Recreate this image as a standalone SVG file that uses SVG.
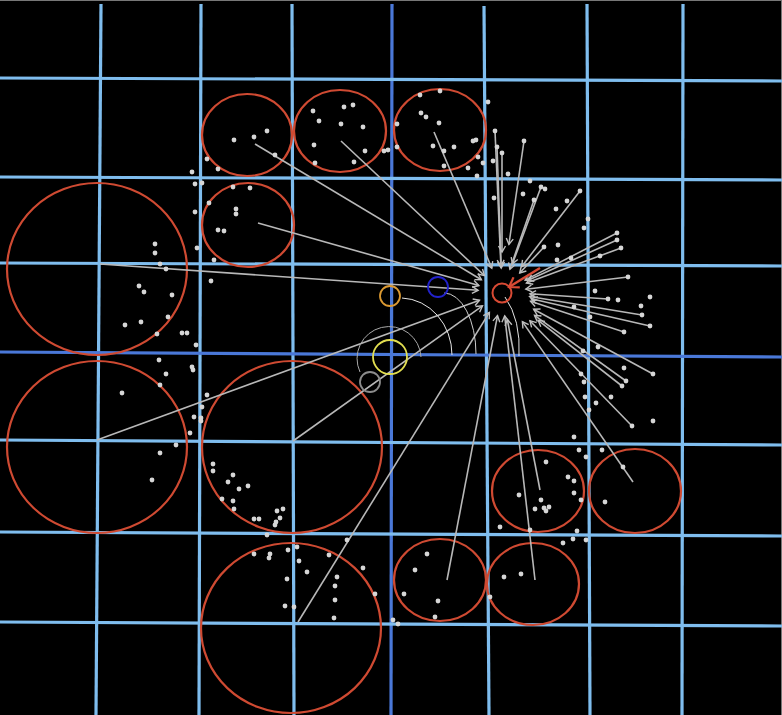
<svg xmlns="http://www.w3.org/2000/svg" width="782" height="715" viewBox="0 0 782 715">
<style>
.g{stroke:#7fbdee;stroke-width:3.2;fill:none}
.gd{stroke:#4a78d8;stroke-width:3.2;fill:none}
.rc{fill:none;stroke:#cf4a32;stroke-width:2.2}
.cn{stroke:#b8b8b8;stroke-width:1.6;fill:none;marker-end:url(#ah)}
.d{fill:#d6d6d6}
</style>
<defs>
<marker id="ah" viewBox="-8 -5 10 10" refX="0" refY="0" markerWidth="10" markerHeight="10" markerUnits="userSpaceOnUse" orient="auto">
<path d="M-6,-3.5 L0,0 L-6,3.5" fill="none" stroke="#c0c0c0" stroke-width="1.4"/>
</marker>
<marker id="rah" viewBox="-12 -7 14 14" refX="0" refY="0" markerWidth="14" markerHeight="14" markerUnits="userSpaceOnUse" orient="auto">
<path d="M-9,-6 L0,0 L-9,6" fill="none" stroke="#d84a34" stroke-width="2.2"/>
</marker>
</defs>
<rect x="0" y="0" width="782" height="715" fill="#000"/>
<line x1="0" y1="0.5" x2="782" y2="0.5" stroke="#777" stroke-width="1"/>
<line x1="781.5" y1="0" x2="781.5" y2="715" stroke="#777" stroke-width="1"/>
<g id="grid">
<line class="g" x1="101" y1="4" x2="96" y2="715"/>
<line class="g" x1="201" y1="4" x2="199" y2="715"/>
<line class="g" x1="292" y1="4" x2="294" y2="715"/>
<line class="gd" x1="392" y1="4" x2="391" y2="715"/>
<line class="g" x1="484" y1="6" x2="489" y2="715"/>
<line class="g" x1="587" y1="4" x2="590" y2="715"/>
<line class="g" x1="683" y1="4" x2="682" y2="715"/>
<line class="g" x1="0" y1="78" x2="782" y2="81"/>
<line class="g" x1="0" y1="177" x2="782" y2="180"/>
<line class="g" x1="0" y1="263" x2="782" y2="266"/>
<line class="gd" x1="0" y1="352" x2="782" y2="357"/>
<line class="g" x1="0" y1="440" x2="782" y2="445"/>
<line class="g" x1="0" y1="532" x2="782" y2="536"/>
<line class="g" x1="0" y1="622" x2="782" y2="626"/>
</g>
<g id="clusters">
<ellipse id="c1" class="rc" cx="247" cy="135" rx="45" ry="41"/>
<ellipse id="c2" class="rc" cx="340" cy="131" rx="46" ry="41"/>
<ellipse id="c3" class="rc" cx="440" cy="130" rx="46" ry="41"/>
<ellipse id="c4" class="rc" cx="248" cy="225" rx="46" ry="42"/>
<ellipse id="c5" class="rc" cx="97" cy="269" rx="90" ry="86"/>
<ellipse id="c6" class="rc" cx="97" cy="447" rx="90" ry="86"/>
<ellipse id="c7" class="rc" cx="292" cy="447" rx="90" ry="86"/>
<ellipse id="c8" class="rc" cx="291" cy="628" rx="90" ry="85"/>
<ellipse id="c9" class="rc" cx="538" cy="491" rx="46" ry="41"/>
<ellipse id="c10" class="rc" cx="635" cy="491" rx="46" ry="42"/>
<ellipse id="c11" class="rc" cx="440" cy="580" rx="46" ry="41"/>
<ellipse id="c12" class="rc" cx="533" cy="584" rx="46" ry="41"/>
</g>
<g id="connectors">
<line class="cn" x1="255" y1="144" x2="481.4" y2="279.7"/>
<line class="cn" x1="341" y1="141" x2="484.5" y2="275.6"/>
<line class="cn" x1="434" y1="132" x2="491.8" y2="268.1"/>
<line class="cn" x1="258" y1="223" x2="478.9" y2="285.5"/>
<line class="cn" x1="100" y1="264" x2="478.1" y2="290.3"/>
<line class="cn" x1="97" y1="440" x2="479.5" y2="300.2"/>
<line class="cn" x1="293" y1="441" x2="482.5" y2="305.9"/>
<line class="cn" x1="298" y1="622" x2="489.4" y2="312.4"/>
<line class="cn" x1="447" y1="580" x2="497.5" y2="315.6"/>
<line class="cn" x1="535" y1="580" x2="504.7" y2="315.8"/>
<line class="cn" x1="540" y1="490" x2="507.3" y2="319.5"/>
<line class="cn" x1="633" y1="482" x2="522.4" y2="321.6"/>
<line class="cn" x1="495" y1="131" x2="500.9" y2="266"/>
<line class="cn" x1="497" y1="147" x2="501.2" y2="268"/>
<line class="cn" x1="502" y1="153" x2="502" y2="252"/>
<line class="cn" x1="524" y1="141" x2="508.9" y2="244.5"/>
<line class="cn" x1="541" y1="187" x2="512.4" y2="263.9"/>
<line class="cn" x1="534" y1="200" x2="509.9" y2="269.3"/>
<line class="cn" x1="580" y1="191" x2="521.6" y2="266.7"/>
<line class="cn" x1="544" y1="247" x2="519.7" y2="273"/>
<line class="cn" x1="617" y1="233" x2="525.1" y2="280.1"/>
<line class="cn" x1="617" y1="240" x2="527.5" y2="280.5"/>
<line class="cn" x1="621" y1="248" x2="526.4" y2="283"/>
<line class="cn" x1="628" y1="277" x2="525.8" y2="289.2"/>
<line class="cn" x1="608" y1="299" x2="529.9" y2="293.8"/>
<line class="cn" x1="642" y1="315" x2="529.6" y2="296.5"/>
<line class="cn" x1="650" y1="326" x2="531.2" y2="298.7"/>
<line class="cn" x1="624" y1="332" x2="530.5" y2="301.3"/>
<line class="cn" x1="653" y1="374" x2="533.6" y2="309.2"/>
<line class="cn" x1="626" y1="381" x2="534.5" y2="315.3"/>
<line class="cn" x1="622" y1="386" x2="538.2" y2="320.4"/>
<line class="cn" x1="632" y1="426" x2="529.9" y2="320.7"/>
<line x1="540" y1="268" x2="509" y2="287" stroke="#d84a34" stroke-width="2.5" marker-end="url(#rah)"/>
</g>
<g id="arcs" fill="none">
<path d="M402,298 A52,57 0 0 1 452,355" stroke="#e6e6e6" stroke-width="1"/>
<path d="M444,293 A32,61 0 0 1 476,354" stroke="#cfcfcf" stroke-width="1"/>
<path d="M421,357 A32,32 0 1 0 360,372" stroke="#a8a8a8" stroke-width="1"/>
<path d="M505,297 Q521,320 519,356" stroke="#e6e6e6" stroke-width="1"/>
</g>
<g id="markers" fill="none" stroke-width="1.8">
<circle id="target" cx="502" cy="293" r="9.5" stroke="#d84a34" stroke-width="2"/>
<circle id="blue" cx="438" cy="287" r="10" stroke="#2222cc"/>
<circle id="orange" cx="390" cy="296" r="10" stroke="#dc9a32"/>
<circle id="yellow" cx="390" cy="357" r="17" stroke="#e2de50"/>
<circle id="gray" cx="370" cy="382" r="10" stroke="#8c8c8c"/>
</g>
<g id="dots" class="d">
<circle cx="234" cy="140" r="2.4"/><circle cx="254" cy="137" r="2.4"/><circle cx="267" cy="131" r="2.4"/><circle cx="275" cy="155" r="2.4"/><circle cx="207" cy="159" r="2.4"/><circle cx="218" cy="169" r="2.4"/><circle cx="192" cy="172" r="2.4"/><circle cx="195" cy="184" r="2.4"/><circle cx="202" cy="183" r="2.4"/><circle cx="233" cy="187" r="2.4"/><circle cx="250" cy="188" r="2.4"/>
<circle cx="313" cy="111" r="2.4"/><circle cx="344" cy="107" r="2.4"/><circle cx="353" cy="105" r="2.4"/><circle cx="319" cy="121" r="2.4"/><circle cx="341" cy="124" r="2.4"/><circle cx="363" cy="127" r="2.4"/><circle cx="314" cy="145" r="2.4"/><circle cx="365" cy="151" r="2.4"/><circle cx="354" cy="162" r="2.4"/><circle cx="315" cy="163" r="2.4"/><circle cx="384" cy="151" r="2.4"/><circle cx="388" cy="150" r="2.4"/><circle cx="397" cy="147" r="2.4"/>
<circle cx="420" cy="95" r="2.4"/><circle cx="440" cy="91" r="2.4"/><circle cx="421" cy="113" r="2.4"/><circle cx="426" cy="117" r="2.4"/><circle cx="439" cy="123" r="2.4"/><circle cx="397" cy="124" r="2.4"/><circle cx="433" cy="146" r="2.4"/><circle cx="444" cy="151" r="2.4"/><circle cx="454" cy="147" r="2.4"/><circle cx="473" cy="141" r="2.4"/><circle cx="476" cy="140" r="2.4"/><circle cx="444" cy="166" r="2.4"/><circle cx="468" cy="168" r="2.4"/><circle cx="478" cy="157" r="2.4"/><circle cx="477" cy="176" r="2.4"/><circle cx="483" cy="163" r="2.4"/><circle cx="488" cy="102" r="2.4"/>
<circle cx="495" cy="131" r="2.4"/><circle cx="497" cy="147" r="2.4"/><circle cx="502" cy="153" r="2.4"/><circle cx="493" cy="161" r="2.4"/><circle cx="524" cy="141" r="2.4"/><circle cx="508" cy="174" r="2.4"/><circle cx="530" cy="181" r="2.4"/><circle cx="523" cy="194" r="2.4"/><circle cx="494" cy="198" r="2.4"/><circle cx="541" cy="187" r="2.4"/><circle cx="545" cy="189" r="2.4"/><circle cx="534" cy="200" r="2.4"/><circle cx="556" cy="209" r="2.4"/><circle cx="567" cy="201" r="2.4"/><circle cx="580" cy="191" r="2.4"/><circle cx="588" cy="219" r="2.4"/><circle cx="584" cy="228" r="2.4"/><circle cx="544" cy="247" r="2.4"/><circle cx="558" cy="245" r="2.4"/><circle cx="557" cy="260" r="2.4"/><circle cx="571" cy="258" r="2.4"/><circle cx="600" cy="256" r="2.4"/><circle cx="617" cy="233" r="2.4"/><circle cx="617" cy="240" r="2.4"/><circle cx="621" cy="248" r="2.4"/><circle cx="628" cy="277" r="2.4"/>
<circle cx="595" cy="291" r="2.4"/><circle cx="608" cy="299" r="2.4"/><circle cx="618" cy="300" r="2.4"/><circle cx="650" cy="297" r="2.4"/><circle cx="641" cy="306" r="2.4"/><circle cx="642" cy="315" r="2.4"/><circle cx="650" cy="326" r="2.4"/><circle cx="574" cy="307" r="2.4"/><circle cx="590" cy="317" r="2.4"/><circle cx="624" cy="332" r="2.4"/><circle cx="598" cy="347" r="2.4"/><circle cx="583" cy="351" r="2.4"/><circle cx="624" cy="368" r="2.4"/><circle cx="653" cy="374" r="2.4"/><circle cx="626" cy="381" r="2.4"/><circle cx="622" cy="386" r="2.4"/><circle cx="581" cy="374" r="2.4"/><circle cx="584" cy="382" r="2.4"/><circle cx="611" cy="397" r="2.4"/><circle cx="585" cy="397" r="2.4"/><circle cx="596" cy="403" r="2.4"/><circle cx="589" cy="410" r="2.4"/><circle cx="632" cy="426" r="2.4"/><circle cx="653" cy="421" r="2.4"/><circle cx="574" cy="437" r="2.4"/><circle cx="579" cy="450" r="2.4"/><circle cx="586" cy="457" r="2.4"/><circle cx="602" cy="450" r="2.4"/>
<circle cx="546" cy="462" r="2.4"/><circle cx="568" cy="477" r="2.4"/><circle cx="574" cy="481" r="2.4"/><circle cx="574" cy="493" r="2.4"/><circle cx="519" cy="495" r="2.4"/><circle cx="541" cy="500" r="2.4"/><circle cx="535" cy="509" r="2.4"/><circle cx="544" cy="508" r="2.4"/><circle cx="546" cy="511" r="2.4"/><circle cx="549" cy="507" r="2.4"/><circle cx="581" cy="500" r="2.4"/><circle cx="530" cy="530" r="2.4"/><circle cx="500" cy="527" r="2.4"/><circle cx="577" cy="531" r="2.4"/><circle cx="573" cy="539" r="2.4"/><circle cx="586" cy="540" r="2.4"/><circle cx="563" cy="543" r="2.4"/>
<circle cx="623" cy="467" r="2.4"/><circle cx="605" cy="502" r="2.4"/>
<circle cx="427" cy="554" r="2.4"/><circle cx="415" cy="570" r="2.4"/><circle cx="404" cy="594" r="2.4"/><circle cx="438" cy="601" r="2.4"/><circle cx="435" cy="617" r="2.4"/><circle cx="393" cy="620" r="2.4"/><circle cx="398" cy="624" r="2.4"/>
<circle cx="504" cy="577" r="2.4"/><circle cx="521" cy="574" r="2.4"/><circle cx="490" cy="597" r="2.4"/>
<circle cx="254" cy="554" r="2.4"/><circle cx="270" cy="554" r="2.4"/><circle cx="269" cy="558" r="2.4"/><circle cx="288" cy="550" r="2.4"/><circle cx="297" cy="547" r="2.4"/><circle cx="299" cy="561" r="2.4"/><circle cx="307" cy="572" r="2.4"/><circle cx="287" cy="579" r="2.4"/><circle cx="285" cy="606" r="2.4"/><circle cx="294" cy="607" r="2.4"/><circle cx="329" cy="555" r="2.4"/><circle cx="347" cy="540" r="2.4"/><circle cx="363" cy="568" r="2.4"/><circle cx="337" cy="577" r="2.4"/><circle cx="335" cy="586" r="2.4"/><circle cx="335" cy="600" r="2.4"/><circle cx="334" cy="618" r="2.4"/><circle cx="375" cy="594" r="2.4"/><circle cx="267" cy="535" r="2.4"/>
<circle cx="213" cy="464" r="2.4"/><circle cx="213" cy="471" r="2.4"/><circle cx="233" cy="475" r="2.4"/><circle cx="228" cy="482" r="2.4"/><circle cx="239" cy="489" r="2.4"/><circle cx="248" cy="486" r="2.4"/><circle cx="222" cy="499" r="2.4"/><circle cx="233" cy="501" r="2.4"/><circle cx="234" cy="509" r="2.4"/><circle cx="254" cy="519" r="2.4"/><circle cx="259" cy="519" r="2.4"/><circle cx="277" cy="511" r="2.4"/><circle cx="283" cy="509" r="2.4"/><circle cx="280" cy="518" r="2.4"/><circle cx="276" cy="522" r="2.4"/><circle cx="275" cy="525" r="2.4"/>
<circle cx="159" cy="360" r="2.4"/><circle cx="166" cy="374" r="2.4"/><circle cx="160" cy="385" r="2.4"/><circle cx="122" cy="393" r="2.4"/><circle cx="192" cy="367" r="2.4"/><circle cx="193" cy="370" r="2.4"/><circle cx="207" cy="395" r="2.4"/><circle cx="202" cy="407" r="2.4"/><circle cx="194" cy="417" r="2.4"/><circle cx="201" cy="418" r="2.4"/><circle cx="201" cy="421" r="2.4"/><circle cx="190" cy="433" r="2.4"/><circle cx="176" cy="445" r="2.4"/><circle cx="160" cy="453" r="2.4"/><circle cx="152" cy="480" r="2.4"/>
<circle cx="155" cy="244" r="2.4"/><circle cx="155" cy="253" r="2.4"/><circle cx="160" cy="264" r="2.4"/><circle cx="166" cy="269" r="2.4"/><circle cx="139" cy="286" r="2.4"/><circle cx="144" cy="292" r="2.4"/><circle cx="172" cy="295" r="2.4"/><circle cx="168" cy="317" r="2.4"/><circle cx="141" cy="322" r="2.4"/><circle cx="125" cy="325" r="2.4"/><circle cx="157" cy="334" r="2.4"/><circle cx="182" cy="333" r="2.4"/><circle cx="187" cy="333" r="2.4"/><circle cx="196" cy="345" r="2.4"/>
<circle cx="209" cy="203" r="2.4"/><circle cx="195" cy="212" r="2.4"/><circle cx="218" cy="230" r="2.4"/><circle cx="224" cy="231" r="2.4"/><circle cx="197" cy="248" r="2.4"/><circle cx="214" cy="260" r="2.4"/><circle cx="211" cy="281" r="2.4"/><circle cx="236" cy="209" r="2.4"/><circle cx="236" cy="214" r="2.4"/>
</g>
</svg>
